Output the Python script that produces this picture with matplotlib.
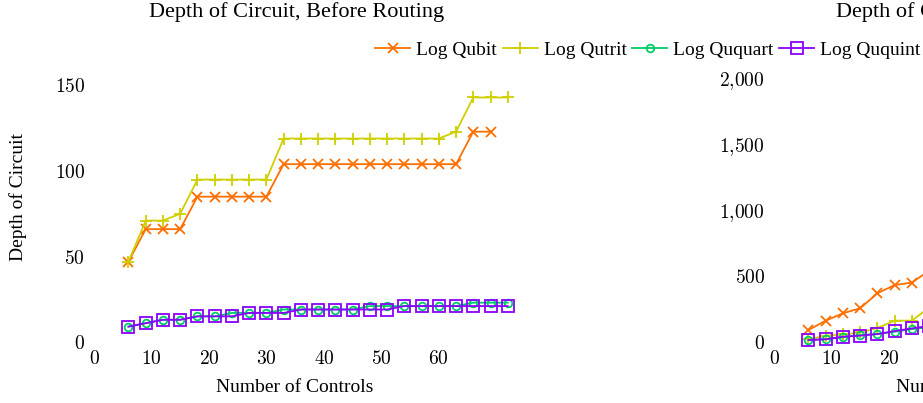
import matplotlib
matplotlib.use('Agg')
import matplotlib.pyplot as plt
from matplotlib.ticker import FuncFormatter

plt.rcParams['font.family'] = ['Liberation Serif', 'DejaVu Serif']
plt.rcParams['mathtext.fontset'] = 'cm'

# Before routing (left panel)
controls = [6, 9, 12, 15, 18, 21, 24, 27, 30, 33, 36, 39, 42, 45, 48, 51, 54, 57, 60, 63, 66, 69, 72]
qubit_before = [47, 66, 66, 66, 85, 85, 85, 85, 85, 104, 104, 104, 104, 104, 104, 104, 104, 104, 104, 104, 123, 123]
qutrit_before = [47, 71, 71, 75, 95, 95, 95, 95, 95, 119, 119, 119, 119, 119, 119, 119, 119, 119, 119, 123, 143, 143, 143]
ququart_before = [9, 11, 13, 13, 15, 15, 17, 17, 17, 19, 19, 19, 19, 19, 21, 21, 21, 21, 21, 21, 23, 23, 23]
ququint_before = [9, 11, 13, 13, 15, 15, 15, 17, 17, 17, 19, 19, 19, 19, 19, 19, 21, 21, 21, 21, 21, 21, 21]

# After routing (right panel, cut off in the picture)
controls_after = [6, 9, 12, 15, 18, 21, 24, 27, 30]
qubit_after = [89, 160, 216, 254, 368, 431, 449, 540, 600]
qutrit_after = [20, 45, 55, 70, 105, 160, 160, 260, 300]
ququart_after = [13, 20, 33, 51, 58, 76, 96, 110, 125]
ququint_after = [13, 18, 38, 46, 58, 81, 101, 120, 135]

labels = ['Log Qubit', 'Log Qutrit', 'Log Ququart', 'Log Ququint']
colors = ['#ff6f00', '#cfcf00', '#00cc66', '#8a00ff']
markers = ['x', '+', 'o', 's']
msizes = [7, 9, 5.5, 9]

fig = plt.figure(figsize=(9.23, 4.03), dpi=100)
W, H = 923, 403
ax_w, ax_h = 431, 273.6
ax1 = fig.add_axes([94 / W, (H - 342) / H, ax_w / W, ax_h / H])
ax2 = fig.add_axes([774 / W, (H - 341.7) / H, ax_w / W, ax_h / H])

fmt = FuncFormatter(lambda v, p: '$' + f'{v:,.0f}'.replace(',', '{,}') + '$')


def draw(ax, xs, series, ymax, yticks, title):
    handles = []
    for ys, lab, c, m, s in zip(series, labels, colors, markers, msizes):
        h, = ax.plot(xs[:len(ys)], ys, color=c, marker=m, markersize=s,
                     markerfacecolor='none', markeredgewidth=1.3, linewidth=1.3,
                     label=lab, clip_on=False)
        handles.append(h)
    ax.set_xlim(0, 75)
    ax.set_ylim(0, ymax)
    for sp in ax.spines.values():
        sp.set_visible(False)
    ax.set_xticks([0, 10, 20, 30, 40, 50, 60])
    ax.set_yticks(yticks)
    ax.xaxis.set_major_formatter(fmt)
    ax.yaxis.set_major_formatter(fmt)
    ax.tick_params(length=0, labelsize=14)
    ax.tick_params(axis='x', pad=6)
    ax.tick_params(axis='y', pad=6.5)
    ax.text(0.47, 1.206, title, fontsize=16, ha='center', va='center',
            transform=ax.transAxes)
    ax.set_xlabel('Number of Controls', fontsize=14, va='center')
    ax.xaxis.set_label_coords(0.465, -0.168)
    return handles


handles = draw(ax1, controls, [qubit_before, qutrit_before, ququart_before, ququint_before],
               160, [0, 50, 100, 150], 'Depth of Circuit, Before Routing')
draw(ax2, controls_after, [qubit_after, qutrit_after, ququart_after, ququint_after],
     2079, [0, 500, 1000, 1500, 2000], 'Depth of Circuit, After Routing')

ax1.set_ylabel('Depth of Circuit', fontsize=14, va='center')
ax1.yaxis.set_label_coords(-0.176, 0.53)

fig.legend(handles, labels, loc='center', bbox_to_anchor=(648 / W, 1 - 50 / H),
           ncol=4, frameon=False, fontsize=14, handlelength=1.8,
           handletextpad=0.3, columnspacing=0.3, borderaxespad=0)

fig.savefig('out.png', dpi=100)
